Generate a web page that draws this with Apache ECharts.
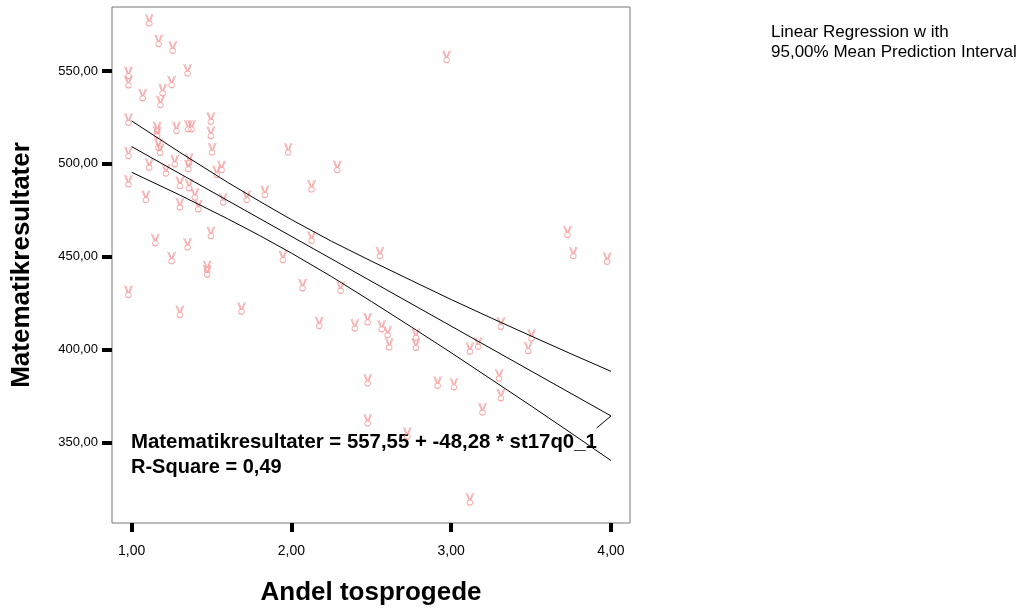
<!DOCTYPE html>
<html><head><meta charset="utf-8">
<script src="https://cdn.jsdelivr.net/npm/echarts@6/dist/echarts.min.js"></script>
<style>html,body{margin:0;padding:0;background:#fff}#c{width:1027px;height:609px}</style>
</head><body><div id="c"></div>
<script>
const xTicks = [1, 2, 3, 4];
const yTicks = [350, 400, 450, 500, 550];
const scatterX = [1.11,1.169,1.257,0.98,0.98,1.35,1.25,1.069,1.194,1.18,0.98,1.16,1.16,1.28,1.355,1.375,1.496,1.496,1.168,1.178,1.504,0.98,1.11,1.27,1.36,1.355,1.215,1.532,1.563,0.98,1.302,1.36,1.396,1.089,1.302,1.417,1.573,1.72,1.496,1.148,1.35,1.25,1.473,1.473,0.98,1.302,1.688,1.98,1.834,1.947,2.971,2.287,2.126,2.126,2.554,2.07,2.308,2.174,2.397,2.477,2.565,2.602,2.612,2.779,2.779,2.477,2.915,3.017,2.477,2.725,3.728,3.764,3.976,3.311,3.503,3.482,3.117,3.169,3.3,3.311,3.196,3.117];
const scatterY = [577.4,566.3,562.7,549.1,544.1,550.5,544.2,537.1,539.8,533.5,524.0,519.5,517.0,519.5,520.4,520.4,524.5,516.8,510.5,507.8,508.0,506.0,499.8,501.6,502.5,499.0,496.7,495.8,498.5,490.8,489.9,488.7,483.7,482.4,478.4,477.4,481.1,482.4,463.0,459.1,456.9,449.5,444.8,442.3,431.3,420.5,422.3,508.0,485.1,450.1,557.7,498.5,488.1,460.5,452.2,434.9,433.6,414.6,413.3,416.6,412.8,409.7,403.1,408.3,402.9,383.7,382.5,381.6,362.2,355.1,463.5,452.2,449.2,414.2,407.9,401.1,400.8,403.5,386.4,375.7,368.1,319.7];
const fitX = [1.0, 4.0, 3.91];
const fitY = [509.3, 364.4, 357.9];
const bandX = [1.0,1.3,1.6,1.8,2.0,2.25,2.5,2.75,3.0,3.25,3.5,3.75,4.0];
const upperY = [523.1,506.3,490.1,479.9,470.0,458.4,447.7,437.3,427.0,417.1,407.4,397.8,388.4];
const lowerY = [495.5,483.3,470.5,461.5,452.0,439.4,426.0,412.3,398.4,384.1,369.8,355.2,340.4];
const xTitle = 'Andel tosprogede';
const yTitle = 'Matematikresultater';
const eqText = 'Matematikresultater = 557,55 + -48,28 * st17q0_1';
const r2Text = 'R-Square = 0,49';
const legendLines = ['Linear Regression w ith', '95,00% Mean Prediction Interval'];

const zip = (a, b) => a.map((v, i) => [v, b[i]]);
const fmt = v => v.toFixed(2).replace('.', ',');
const FONT = '"Liberation Sans", Arial, sans-serif';
const chart = echarts.init(document.getElementById('c'), null, {renderer: 'canvas'});
const lineStyle = {color: '#000', width: 1};
// victory-hand style marker: V of two fingers over a small loop
const handPath = 'path://M0.5,0 L3,6.3 M7.5,0 L5,6.3 M1.8,0.2 L3.6,6 M6.2,0.2 L4.4,6 M1.5,9 A2.5,2.5 0 1 0 6.5,9 A2.5,2.5 0 1 0 1.5,9 Z';
chart.setOption({
  animation: false,
  backgroundColor: '#fff',
  grid: {left: 112, right: 397, top: 7, bottom: 86, outerBoundsMode: 'none', containLabel: false,
         show: true, borderColor: '#777', borderWidth: 1, backgroundColor: '#fff'},
  xAxis: {
    type: 'value', min: 0.877, max: 4.119,
    name: xTitle, nameLocation: 'middle', nameGap: 57,
    nameTextStyle: {fontFamily: FONT, fontWeight: 'bold', fontSize: 26, color: '#000'},
    axisLine: {show: false}, splitLine: {show: false},
    axisTick: {show: true, customValues: xTicks, length: 9, lineStyle: {color: '#000', width: 4}},
    axisLabel: {customValues: xTicks, formatter: fmt, margin: 21, fontFamily: FONT, fontSize: 14, color: '#000'}
  },
  yAxis: {
    type: 'value', min: 306.8, max: 584.4,
    name: yTitle, nameLocation: 'middle', nameGap: 77, nameRotate: 90,
    nameTextStyle: {fontFamily: FONT, fontWeight: 'bold', fontSize: 26, color: '#000'},
    axisLine: {show: false}, splitLine: {show: false},
    axisTick: {show: true, customValues: yTicks, length: 10, lineStyle: {color: '#000', width: 4}},
    axisLabel: {customValues: yTicks, formatter: fmt, margin: 14, fontFamily: FONT, fontSize: 13, color: '#000'}
  },
  series: [
    {type: 'scatter', data: zip(scatterX, scatterY), symbol: handPath, symbolSize: [8, 12],
     itemStyle: {color: 'rgba(0,0,0,0)', borderColor: '#f59595', borderWidth: 1}},
    {type: 'line', data: zip(bandX, upperY), symbol: 'none', lineStyle},
    {type: 'line', data: zip(fitX, fitY), symbol: 'none', lineStyle},
    {type: 'line', data: zip(bandX, lowerY), symbol: 'none', lineStyle}
  ],
  graphic: [
    {type: 'text', left: 131, top: 432, style: {text: eqText, font: 'bold 20.4px ' + FONT, fill: '#000'}},
    {type: 'text', left: 131, top: 457, style: {text: r2Text, font: 'bold 20px ' + FONT, fill: '#000'}},
    {type: 'text', left: 771, top: 24, style: {text: legendLines[0], font: '17px ' + FONT, fill: '#000'}},
    {type: 'text', left: 771, top: 44, style: {text: legendLines[1], font: '17px ' + FONT, fill: '#000'}}
  ]
});
</script></body></html>
